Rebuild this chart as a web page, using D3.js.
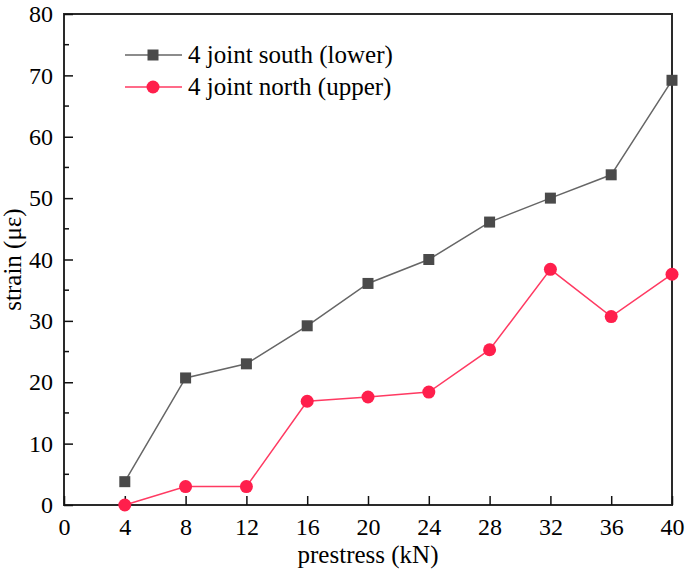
<!DOCTYPE html>
<html>
<head>
<meta charset="utf-8">
<script src="https://cdn.jsdelivr.net/npm/d3@7"></script>
<style>
body { margin: 0; background: #fff; }
</style>
</head>
<body>
<div id="chart"></div>
<script>
// Data
const prestress = [4, 8, 12, 16, 20, 24, 28, 32, 36, 40];
const southLower = [3.8, 20.7, 23.0, 29.2, 36.1, 40.0, 46.1, 50.0, 53.8, 69.2];
const northUpper = [0, 3.0, 3.0, 16.9, 17.6, 18.4, 25.3, 38.4, 30.7, 37.6];
const xTicks = [0, 4, 8, 12, 16, 20, 24, 28, 32, 36, 40];
const yTicks = [0, 10, 20, 30, 40, 50, 60, 70, 80];
const yMinorTicks = [5, 15, 25, 35, 45, 55, 65, 75];
const seriesNames = ["4 joint south (lower)", "4 joint north (upper)"];

const outerW = 685, outerH = 574;
const plotL = 64, plotT = 14, plotR = 672, plotB = 505;
const FONT = "'Liberation Serif', 'Times New Roman', serif";

const svg = d3.select("#chart").append("svg")
	.attr("width", outerW)
	.attr("height", outerH);

const xscale = d3.scaleLinear().domain([0, 40]).range([plotL, plotR]);
const yscale = d3.scaleLinear().domain([0, 80]).range([plotB, plotT]);

const series = [
	{name: seriesNames[0], values: southLower, line: "#666666", fill: "#4a4a4a", shape: "square"},
	{name: seriesNames[1], values: northUpper, line: "#ff3a62", fill: "#ff1f4c", shape: "circle"}
];

// frame
svg.append("rect")
	.attr("x", plotL).attr("y", plotT)
	.attr("width", plotR - plotL).attr("height", plotB - plotT)
	.attr("fill", "none").attr("stroke", "#2a2a2a").attr("stroke-width", 2);

// x axis (ticks pointing inward)
const xaxis = svg.append("g")
	.attr("transform", "translate(0," + plotB + ")")
	.call(d3.axisBottom(xscale).tickValues(xTicks).tickSizeInner(-9).tickSizeOuter(0).tickPadding(13));
xaxis.select(".domain").remove();
xaxis.selectAll("line").attr("stroke", "#111").attr("stroke-width", 1.5);
xaxis.selectAll("text").style("font-size", "24px").style("font-family", FONT).attr("fill", "#000");

// y axis
const yaxis = svg.append("g")
	.attr("transform", "translate(" + plotL + ",0)")
	.call(d3.axisLeft(yscale).tickValues(yTicks).tickSizeInner(-9).tickSizeOuter(0).tickPadding(11));
yaxis.select(".domain").remove();
yaxis.selectAll("line").attr("stroke", "#111").attr("stroke-width", 1.5);
yaxis.selectAll("text").style("font-size", "24px").style("font-family", FONT).attr("fill", "#000");

// y minor ticks
svg.append("g").selectAll("line").data(yMinorTicks).enter().append("line")
	.attr("x1", plotL).attr("x2", plotL + 5)
	.attr("y1", d => yscale(d)).attr("y2", d => yscale(d))
	.attr("stroke", "#111").attr("stroke-width", 1.5);

// axis titles
svg.append("text")
	.attr("x", (plotL + plotR) / 2)
	.attr("y", 563)
	.attr("text-anchor", "middle")
	.style("font-size", "25px").style("font-family", FONT)
	.text("prestress (kN)");

svg.append("text")
	.attr("transform", "translate(21," + ((plotT + plotB) / 2) + ") rotate(-90)")
	.attr("text-anchor", "middle")
	.style("font-size", "25px").style("font-family", FONT)
	.text("strain (με)");

// lines and markers
const line = d3.line()
	.x((d, i) => xscale(prestress[i]))
	.y(d => yscale(d));

function drawMarker(g, s, x, y) {
	if (s.shape === "square") {
		g.append("rect").attr("x", x - 5.5).attr("y", y - 5.5)
			.attr("width", 11).attr("height", 11).attr("fill", s.fill);
	} else {
		g.append("circle").attr("cx", x).attr("cy", y).attr("r", 6.5).attr("fill", s.fill);
	}
}

for (const s of series) {
	svg.append("path").datum(s.values)
		.attr("fill", "none")
		.attr("stroke", s.line)
		.attr("stroke-width", 1.5)
		.attr("d", line);
	const g = svg.append("g");
	s.values.forEach((v, i) => drawMarker(g, s, xscale(prestress[i]), yscale(v)));
}

// legend
series.forEach((s, i) => {
	const ly = 55 + i * 32;
	const g = svg.append("g");
	g.append("line").attr("x1", 125).attr("x2", 182).attr("y1", ly).attr("y2", ly)
		.attr("stroke", s.line).attr("stroke-width", 1.5);
	drawMarker(g, s, 153, ly);
	g.append("text").attr("x", 188).attr("y", ly + 8)
		.style("font-size", "25px").style("font-family", FONT)
		.text(s.name);
});
</script>
</body>
</html>
